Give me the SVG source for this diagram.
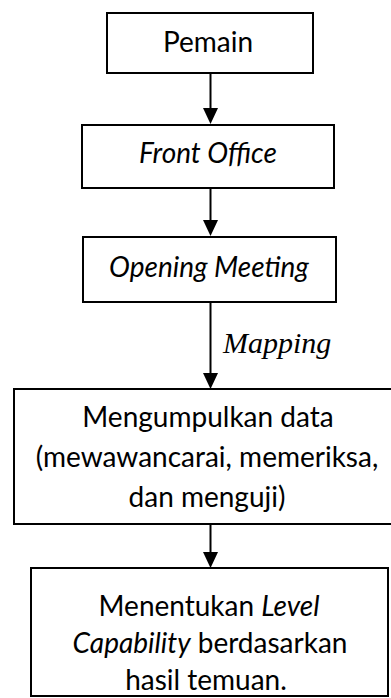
<svg xmlns="http://www.w3.org/2000/svg" width="391" height="698" viewBox="0 0 391 698">
  <defs>
    <style>
      .box { fill: #fff; stroke: #000; stroke-width: 2; }
      .lbl { font-family: Lato, "Liberation Sans", sans-serif; font-size: 28px; fill: #000; text-anchor: middle; }
      .it { font-style: italic; }
      .edge { stroke: #000; stroke-width: 2; fill: none; }
      .head { fill: #000; }
      .map { font-family: "Liberation Serif", serif; font-style: italic; font-size: 30px; fill: #000; }
    </style>
  </defs>

  <rect width="391" height="698" fill="#fff"/>

  <!-- vertical flow arrows and the edge label -->
  <g id="connectors">
    <line class="edge" x1="210.5" y1="73" x2="210.5" y2="110"/>
    <path class="head" d="M203,108 L218,108 L210.5,124 Z"/>
    <line class="edge" x1="210.5" y1="188" x2="210.5" y2="222"/>
    <path class="head" d="M203,220 L218,220 L210.5,236 Z"/>
    <line class="edge" x1="210.5" y1="302" x2="210.5" y2="375"/>
    <path class="head" d="M203,373 L218,373 L210.5,389 Z"/>
    <line class="edge" x1="210.5" y1="524" x2="210.5" y2="554"/>
    <path class="head" d="M203,552 L218,552 L210.5,568 Z"/>
    <text class="map" x="223" y="353">Mapping</text>
  </g>

  <g id="pemain">
    <rect class="box" x="107" y="13" width="206" height="60"/>
    <text class="lbl" x="208" y="52">Pemain</text>
  </g>

  <g id="front-office">
    <rect class="box" x="82" y="125" width="252" height="63"/>
    <text class="lbl it" x="208" y="163">Front Office</text>
  </g>

  <g id="opening-meeting">
    <rect class="box" x="83" y="237" width="253" height="65"/>
    <text class="lbl it" x="209" y="277">Opening Meeting</text>
  </g>

  <g id="mengumpulkan-data">
    <rect class="box" x="14" y="389" width="392" height="135"/>
    <text class="lbl" x="208" y="427">Mengumpulkan data</text>
    <text class="lbl" x="207" y="467">(mewawancarai, memeriksa,</text>
    <text class="lbl" x="207" y="507">dan menguji)</text>
  </g>

  <g id="menentukan-level">
    <rect class="box" x="31" y="568" width="357" height="128"/>
    <text class="lbl" x="209" y="616">Menentukan <tspan class="it">Level</tspan></text>
    <text class="lbl" x="210" y="653"><tspan class="it">Capability</tspan> berdasarkan</text>
    <text class="lbl" x="206" y="690">hasil temuan.</text>
  </g>
</svg>
